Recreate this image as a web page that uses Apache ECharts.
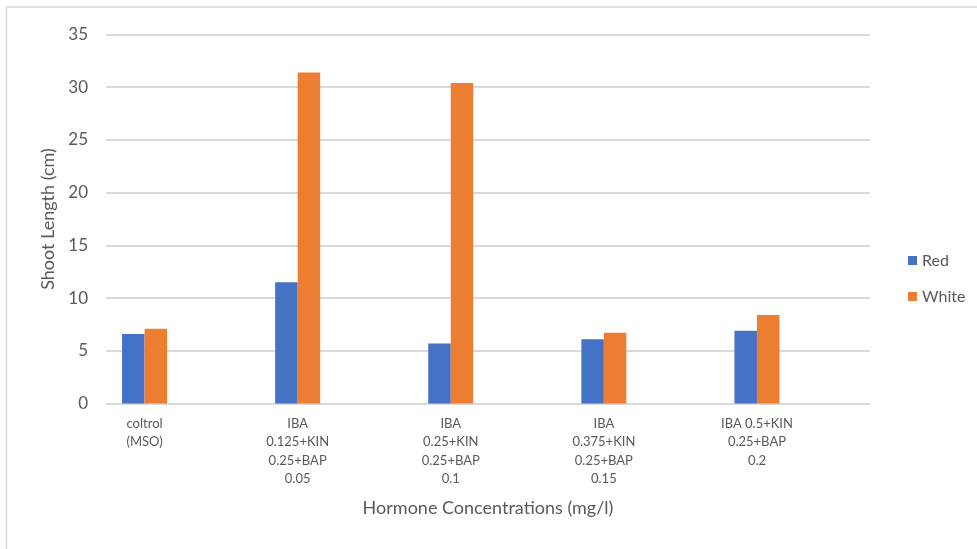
<!DOCTYPE html>
<html>
<head>
<meta charset="utf-8">
<title>Shoot Length by Hormone Concentration</title>
<script src="https://cdn.jsdelivr.net/npm/echarts@6/dist/echarts.min.js"></script>
<style>
  html, body { margin: 0; padding: 0; background: #ffffff; }
  #chart { width: 977px; height: 549px; }
</style>
</head>
<body>
<div id="chart"></div>
<script>
// Treatments (category axis labels)
const categories = [
  'coltrol\n(MSO)',
  'IBA\n0.125+KIN\n0.25+BAP\n0.05',
  'IBA\n0.25+KIN\n0.25+BAP\n0.1',
  'IBA\n0.375+KIN\n0.25+BAP\n0.15',
  'IBA 0.5+KIN\n0.25+BAP\n0.2'
];

// Shoot length (cm) per treatment
const redValues = [6.6, 11.5, 5.7, 6.1, 6.9];
const whiteValues = [7.1, 31.4, 30.4, 6.7, 8.4];

// Value axis ticks
const yMin = 0;
const yMax = 35;
const yStep = 5;

const FONT = 'Lato, "Open Sans", sans-serif';
const TEXT = '#595959';
const GRID_LINE = '#d9d9d9';

const chart = echarts.init(document.getElementById('chart'), null, { renderer: 'canvas' });

chart.setOption({
  backgroundColor: '#ffffff',
  animation: false,
  textStyle: { fontFamily: FONT },
  graphic: [
    // outer chart frame (left and top edges)
    { type: 'line', shape: { x1: 6.5, y1: 7, x2: 6.5, y2: 549 }, style: { stroke: GRID_LINE, lineWidth: 1.5 } },
    { type: 'line', shape: { x1: 6.5, y1: 7, x2: 977, y2: 7 }, style: { stroke: GRID_LINE, lineWidth: 1.5 } }
  ],
  legend: {
    orient: 'vertical',
    left: 903,
    top: 247,
    itemWidth: 9,
    itemHeight: 9,
    itemGap: 19,
    icon: 'rect',
    data: ['Red', 'White'],
    textStyle: { color: TEXT, fontSize: 16, fontFamily: FONT, lineHeight: 17 }
  },
  grid: [
    // bar grid
    { left: 68, right: 143.5, top: 34.5, bottom: 145.5, containLabel: false },
    // gridline / value axis grid
    { left: 106, right: 107, top: 34.5, bottom: 145.5, containLabel: false }
  ],
  xAxis: [
    {
      type: 'category',
      gridIndex: 0,
      data: categories,
      axisLine: { show: false },
      axisTick: { show: false },
      axisLabel: {
        color: TEXT,
        fontSize: 13,
        fontFamily: FONT,
        lineHeight: 18.5,
        margin: 11,
        interval: 0
      }
    },
    {
      type: 'value',
      gridIndex: 1,
      min: 0,
      max: 1,
      axisLine: { show: false },
      axisTick: { show: false },
      axisLabel: { show: false },
      splitLine: { show: false },
      name: 'Hormone Concentrations (mg/l)',
      nameLocation: 'middle',
      nameGap: 96,
      nameTextStyle: { color: TEXT, fontSize: 18, fontFamily: FONT }
    }
  ],
  yAxis: [
    {
      type: 'value',
      gridIndex: 0,
      min: yMin,
      max: yMax,
      interval: yStep,
      show: false
    },
    {
      type: 'value',
      gridIndex: 1,
      min: yMin,
      max: yMax,
      interval: yStep,
      axisLine: { show: false },
      axisTick: { show: false },
      axisLabel: { color: TEXT, fontSize: 17, fontFamily: FONT, margin: 18 },
      splitLine: { show: true, lineStyle: { color: GRID_LINE, width: 2 } },
      name: 'Shoot Length (cm)',
      nameLocation: 'middle',
      nameGap: 47,
      nameTextStyle: { color: TEXT, fontSize: 18, fontFamily: FONT }
    }
  ],
  series: [
    {
      name: 'Red',
      type: 'bar',
      xAxisIndex: 0,
      yAxisIndex: 0,
      data: redValues,
      barWidth: 22.5,
      barGap: '0%',
      itemStyle: { color: '#4472c4' }
    },
    {
      name: 'White',
      type: 'bar',
      xAxisIndex: 0,
      yAxisIndex: 0,
      data: whiteValues,
      barWidth: 22.5,
      barGap: '0%',
      itemStyle: { color: '#ed7d31' }
    }
  ]
});
</script>
</body>
</html>
